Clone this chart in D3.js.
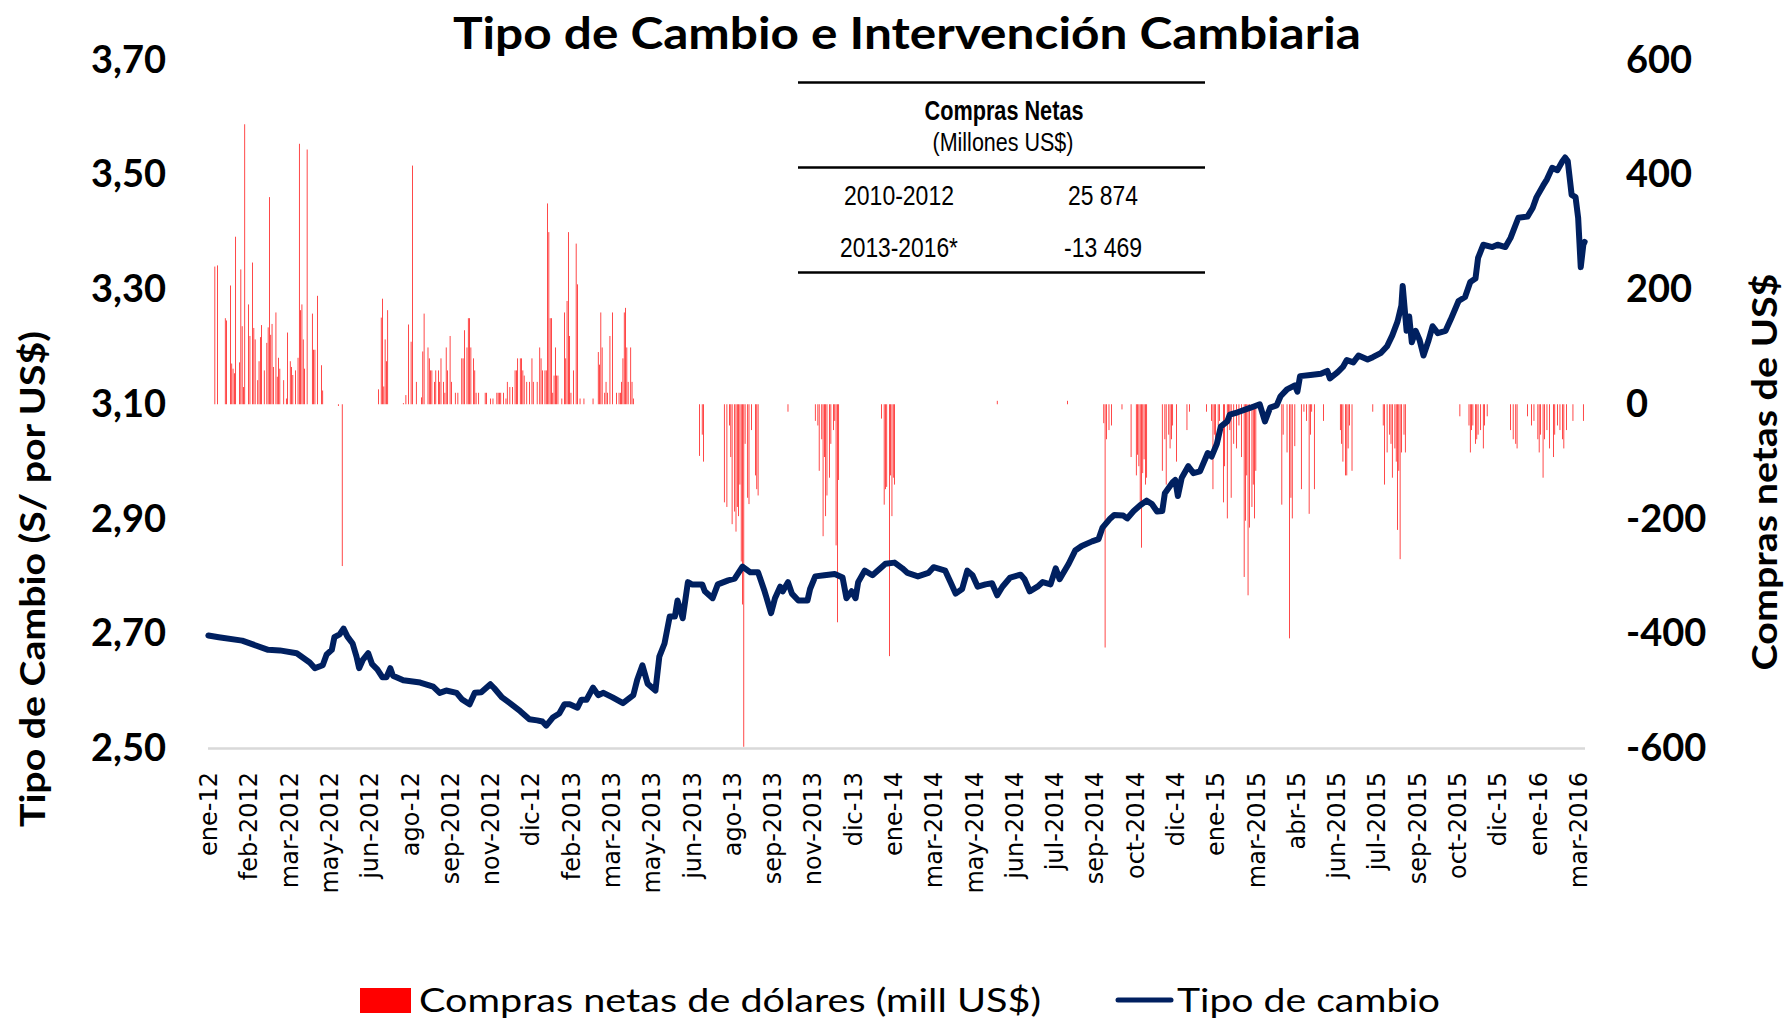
<!DOCTYPE html>
<html>
<head>
<meta charset="utf-8">
<script src="https://cdn.jsdelivr.net/npm/d3@7"></script>
<style>
  body { margin: 0; background: #fff; }
  svg { display: block; }
</style>
</head>
<body>
<svg id="chart" width="1789" height="1020"></svg>
<script>
// Trading days on the category axis (ene-2012 .. mar-2016) and label interval
const dayCount = 1060;
const labelEvery = 31;

const tickLabels = ["ene-12","feb-2012","mar-2012","may-2012","jun-2012","ago-12","sep-2012","nov-2012",
  "dic-12","feb-2013","mar-2013","may-2013","jun-2013","ago-13","sep-2013","nov-2013","dic-13",
  "ene-14","mar-2014","may-2014","jun-2014","jul-2014","sep-2014","oct-2014","dic-14","ene-15",
  "mar-2015","abr-15","jun-2015","jul-2015","sep-2015","oct-2015","dic-15","ene-16","mar-2016"];

const rateTicks = [2.5, 2.7, 2.9, 3.1, 3.3, 3.5, 3.7];
const flowTicks = [-600, -400, -200, 0, 200, 400, 600];

// Tipo de cambio (S/ por US$) by trading day
const rateDays = [0,8,26,46,55,68,78,82,88,91,95,97,101,104,107,111,114,116,119,123,126,130,134,137,140,142,
  150,163,173,178,183,191,195,201,205,210,217,220,226,232,240,247,253,257,260,265,270,274,278,284,287,291,
  296,300,304,311,319,327,330,334,338,344,347,351,355,359,361,365,369,372,380,382,388,392,400,405,411,417,
  423,428,433,436,440,442,446,449,454,461,463,467,474,482,488,491,495,498,500,505,511,521,528,534,538,546,
  554,558,567,571,575,580,584,588,592,598,603,607,611,617,625,628,632,638,642,648,652,655,662,667,672,680,
  685,688,694,697,704,707,712,717,722,726,730,734,736,742,744,746,749,754,758,763,769,772,776,779,784,786,
  792,802,809,813,817,822,825,830,836,838,840,848,856,861,863,869,873,876,881,885,892,896,902,907,911,915,
  918,919,922,924,926,929,932,935,939,942,946,952,956,962,967,971,975,977,981,988,992,998,1002,1008,1015,
  1019,1022,1027,1030,1034,1038,1042,1044,1046,1049,1052,1054,1056,1058,1059];
const rateValues = [2.697,2.694,2.688,2.672,2.671,2.666,2.650,2.640,2.645,2.664,2.672,2.694,2.699,2.709,2.695,
  2.683,2.660,2.640,2.655,2.666,2.647,2.638,2.624,2.624,2.640,2.627,2.619,2.615,2.608,2.597,2.601,2.597,2.586,
  2.577,2.597,2.598,2.612,2.605,2.589,2.579,2.565,2.551,2.549,2.547,2.540,2.554,2.561,2.577,2.577,2.571,2.585,
  2.585,2.606,2.593,2.597,2.589,2.579,2.593,2.620,2.645,2.613,2.601,2.660,2.683,2.730,2.730,2.758,2.727,2.790,
  2.786,2.786,2.774,2.762,2.786,2.793,2.796,2.817,2.807,2.807,2.774,2.736,2.762,2.782,2.774,2.790,2.770,2.758,
  2.758,2.778,2.800,2.802,2.804,2.798,2.762,2.774,2.762,2.790,2.810,2.802,2.822,2.824,2.814,2.806,2.800,2.806,
  2.816,2.810,2.790,2.770,2.778,2.810,2.802,2.782,2.786,2.788,2.767,2.782,2.798,2.803,2.795,2.774,2.782,2.790,
  2.786,2.814,2.795,2.822,2.845,2.853,2.861,2.865,2.885,2.901,2.907,2.906,2.901,2.914,2.924,2.932,2.926,2.913,
  2.914,2.945,2.964,2.968,2.940,2.972,2.992,2.980,2.983,3.015,3.009,3.031,3.061,3.070,3.082,3.086,3.094,3.100,
  3.070,3.094,3.098,3.114,3.126,3.133,3.122,3.149,3.151,3.153,3.158,3.145,3.156,3.165,3.177,3.173,3.185,3.178,
  3.182,3.189,3.201,3.220,3.244,3.272,3.306,3.228,3.253,3.208,3.228,3.212,3.185,3.212,3.236,3.224,3.228,3.248,
  3.280,3.287,3.313,3.319,3.355,3.378,3.374,3.378,3.374,3.390,3.425,3.427,3.442,3.461,3.481,3.492,3.512,3.508,
  3.524,3.530,3.524,3.465,3.461,3.425,3.339,3.378,3.383];

// Compras netas de dólares (mill US$) on intervention days
const flowDays = [5,7,13,14,17,18,19,20,21,24,25,26,27,28,31,32,34,35,36,38,39,40,41,43,45,46,47,48,49,50,52,53,
  54,55,58,60,61,63,64,65,67,69,70,71,72,73,74,76,80,81,82,84,87,88,100,103,
  131,133,134,135,136,137,138,150,152,154,156,157,160,164,165,166,169,170,171,172,174,175,177,178,179,181,182,
  183,184,186,187,190,192,195,196,197,199,200,201,202,204,205,206,208,213,214,217,219,222,223,224,225,227,229,
  230,232,234,236,237,238,240,241,242,243,245,247,249,250,253,255,256,257,259,260,261,262,263,264,265,266,267,
  268,269,272,274,275,276,277,278,279,281,283,284,286,289,296,300,301,302,303,305,306,307,309,311,314,316,317,
  318,319,320,321,322,323,325,326,327,
  378,380,381,397,399,401,402,403,405,406,407,408,409,410,411,412,413,415,416,418,421,422,423,446,467,469,470,
  472,473,474,475,476,478,479,481,482,483,484,485,518,520,521,522,524,525,526,527,528,607,661,689,690,691,693,
  695,703,710,714,715,716,717,718,719,720,721,722,734,736,737,739,740,741,742,745,753,755,768,772,773,774,775,
  777,778,781,782,784,785,786,787,789,791,793,795,797,798,799,800,801,803,804,805,806,826,827,830,832,833,834,
  836,841,843,845,847,848,849,851,858,871,872,873,875,876,877,878,880,896,904,905,907,909,910,911,913,914,915,
  916,917,918,920,921,963,970,971,972,973,975,976,977,979,981,982,984,1002,1004,1006,1007,1015,1018,1020,1023,
  1024,1025,1027,1028,1030,1032,1035,1036,1038,1040,1042,1043,1045,1050,1058];
const flowValues = [240,242,150,146,207,71,62,54,292,73,235,136,30,488,174,119,247,133,113,42,75,117,138,59,107,
  134,361,121,140,65,160,48,81,62,42,10,125,75,65,51,59,81,454,164,174,113,62,444,158,95,95,189,68,24,-3,-282,
  26,151,184,31,113,75,164,2,16,139,109,416,39,12,92,158,99,80,59,59,39,59,59,39,80,39,20,99,59,119,39,20,20,
  80,80,129,99,150,150,99,80,59,20,20,20,20,10,10,20,20,20,20,20,10,39,30,30,59,59,80,80,80,59,50,39,39,80,39,
  39,99,80,59,59,59,350,300,150,150,20,50,99,50,50,10,160,80,180,300,119,20,59,280,209,10,10,10,91,69,160,99,
  20,39,20,119,160,20,20,20,39,80,160,168,99,39,99,39,10,
  -90,-53,-100,-171,-179,-37,-92,-209,-187,-222,-179,-195,-140,-274,-349,-597,-69,-163,-174,-45,-124,-148,
  -159,-13,-29,-37,-116,-61,-230,-92,-195,-159,-128,-69,-45,-29,-246,-380,-132,-25,-175,-148,-144,-439,-124,
  -195,-128,-140,6,6,-33,-424,-61,-45,-37,-9,-92,-124,-88,-108,-171,-250,-120,-96,-140,-128,-116,-61,-140,-53,
  -77,-61,-37,-100,-45,-13,-13,-29,-148,-53,-69,-37,-29,-171,-108,-199,-29,-45,-163,-69,-77,-37,-92,-301,-203,
  -124,-333,-215,-179,-140,-199,-116,-175,-53,-84,-408,-163,-199,-73,-148,-13,-29,-191,-53,-13,-148,-29,-45,
  -69,-100,-124,-124,-77,-37,-116,-13,-37,-140,-84,-53,-69,-128,-77,-100,-219,-116,-270,-84,-53,-84,-21,-37,
  -84,-45,-37,-69,-61,-53,-45,-77,-37,-21,-45,-61,-69,-77,-21,-37,-29,-61,-84,-53,-128,-61,-45,-77,-92,-53,
  -37,-45,-61,-77,-45,-29,-29];

// Summary table
const tableRows = [["2010-2012", "25 874"], ["2013-2016*", "-13 469"]];

const svg = d3.select("#chart");
const plot = { left: 208, right: 1585, top: 60, bottom: 748.5 };

const x = d3.scaleBand().domain(d3.range(dayCount)).range([plot.left, plot.right]).paddingInner(0.45);
const yRate = d3.scaleLinear().domain([2.5, 3.7]).range([plot.bottom, plot.top]);
const yFlow = d3.scaleLinear().domain([-600, 600]).range([plot.bottom, plot.top]);

const calibriLike = "Lato, 'Open Sans', sans-serif";
const narrow = "'Liberation Sans Narrow', 'Arial Narrow', 'Liberation Sans', Arial, sans-serif";

// Title
svg.append("text")
  .attr("x", 907).attr("y", 49)
  .attr("text-anchor", "middle")
  .attr("font-family", calibriLike).attr("font-weight", 700).attr("font-size", 44)
  .attr("textLength", 908).attr("lengthAdjust", "spacingAndGlyphs")
  .text("Tipo de Cambio e Intervención Cambiaria");

// Intervention bars
svg.append("g").selectAll("rect")
  .data(d3.range(flowDays.length))
  .join("rect")
  .attr("x", i => x(flowDays[i]))
  .attr("width", x.bandwidth())
  .attr("y", i => yFlow(Math.max(0, flowValues[i])))
  .attr("height", i => Math.abs(yFlow(flowValues[i]) - yFlow(0)))
  .attr("fill", "#ff0000");

// Bottom axis line
svg.append("line")
  .attr("x1", plot.left).attr("x2", plot.right)
  .attr("y1", plot.bottom).attr("y2", plot.bottom)
  .attr("stroke", "#d9d9d9").attr("stroke-width", 2.5);

// Exchange-rate line
const line = d3.line()
  .x(i => x(rateDays[i]) + x.bandwidth() / 2)
  .y(i => yRate(rateValues[i]));
svg.append("path")
  .attr("d", line(d3.range(rateDays.length)))
  .attr("fill", "none")
  .attr("stroke", "#002060")
  .attr("stroke-width", 6)
  .attr("stroke-linejoin", "round")
  .attr("stroke-linecap", "round");

// Left axis
const leftAxis = svg.append("g")
  .attr("transform", `translate(${plot.left},0)`)
  .call(d3.axisLeft(yRate).tickValues(rateTicks).tickSize(0).tickPadding(42)
    .tickFormat(d => d3.format(".2f")(d).replace(".", ",")));
leftAxis.select(".domain").remove();
leftAxis.selectAll("text")
  .attr("font-family", calibriLike).attr("font-weight", 700).attr("font-size", 38).attr("fill", "#000");

// Right axis
const rightAxis = svg.append("g")
  .attr("transform", `translate(${plot.right},0)`)
  .call(d3.axisRight(yFlow).tickValues(flowTicks).tickSize(0).tickPadding(41)
    .tickFormat(d => String(d)));
rightAxis.select(".domain").remove();
rightAxis.selectAll("text")
  .attr("font-family", calibriLike).attr("font-weight", 700).attr("font-size", 38).attr("fill", "#000");

// Category axis labels
const bottomAxis = svg.append("g")
  .attr("transform", `translate(0,${plot.bottom})`)
  .call(d3.axisBottom(x).tickValues(d3.range(0, dayCount, labelEvery)).tickSize(0)
    .tickFormat(d => tickLabels[d / labelEvery]));
bottomAxis.select(".domain").remove();
bottomAxis.selectAll("text")
  .attr("transform", "rotate(-90)")
  .attr("text-anchor", "end")
  .attr("x", -23.5).attr("y", 0).attr("dy", "0.36em")
  .attr("font-family", "'DejaVu Sans', Verdana, sans-serif").attr("font-size", 24).attr("fill", "#000");

// Axis titles
svg.append("text")
  .attr("transform", "translate(45,579) rotate(-90)")
  .attr("text-anchor", "middle")
  .attr("font-family", calibriLike).attr("font-weight", 700).attr("font-size", 35)
  .attr("textLength", 496).attr("lengthAdjust", "spacingAndGlyphs")
  .text("Tipo de Cambio (S/ por US$)");
svg.append("text")
  .attr("transform", "translate(1777,472) rotate(-90)")
  .attr("text-anchor", "middle")
  .attr("font-family", calibriLike).attr("font-weight", 700).attr("font-size", 35)
  .attr("textLength", 397).attr("lengthAdjust", "spacingAndGlyphs")
  .text("Compras netas de US$");

// Summary table
const table = svg.append("g");
[82.6, 167.6, 272.6].forEach(yy => {
  table.append("line").attr("x1", 798).attr("x2", 1205).attr("y1", yy).attr("y2", yy)
    .attr("stroke", "#000").attr("stroke-width", 2.5);
});
table.append("text").attr("x", 1004).attr("y", 120).attr("text-anchor", "middle")
  .attr("font-family", narrow).attr("font-weight", 700).attr("font-size", 27)
  .attr("textLength", 159).attr("lengthAdjust", "spacingAndGlyphs")
  .text("Compras Netas");
table.append("text").attr("x", 1003).attr("y", 150.5).attr("text-anchor", "middle")
  .attr("font-family", narrow).attr("font-size", 26)
  .attr("textLength", 141).attr("lengthAdjust", "spacingAndGlyphs")
  .text("(Millones US$)");
const rowY = [205, 257];
const labelLen = [110, 118];
const valueLen = [70, 78];
tableRows.forEach((r, i) => {
  table.append("text").attr("x", 899).attr("y", rowY[i]).attr("text-anchor", "middle")
    .attr("font-family", narrow).attr("font-size", 28)
    .attr("textLength", labelLen[i]).attr("lengthAdjust", "spacingAndGlyphs").text(r[0]);
  table.append("text").attr("x", 1103).attr("y", rowY[i]).attr("text-anchor", "middle")
    .attr("font-family", narrow).attr("font-size", 28)
    .attr("textLength", valueLen[i]).attr("lengthAdjust", "spacingAndGlyphs").text(r[1]);
});

// Legend
const legend = svg.append("g");
legend.append("rect").attr("x", 360).attr("y", 988).attr("width", 51).attr("height", 25).attr("fill", "#ff0000");
legend.append("text").attr("x", 419).attr("y", 1012)
  .attr("font-family", calibriLike).attr("font-size", 32)
  .attr("textLength", 622).attr("lengthAdjust", "spacingAndGlyphs")
  .text("Compras netas de dólares (mill US$)");
legend.append("line").attr("x1", 1118).attr("x2", 1171).attr("y1", 1000).attr("y2", 1000)
  .attr("stroke", "#002060").attr("stroke-width", 5).attr("stroke-linecap", "round");
legend.append("text").attr("x", 1177).attr("y", 1012)
  .attr("font-family", calibriLike).attr("font-size", 32)
  .attr("textLength", 263).attr("lengthAdjust", "spacingAndGlyphs")
  .text("Tipo de cambio");
</script>
</body>
</html>
